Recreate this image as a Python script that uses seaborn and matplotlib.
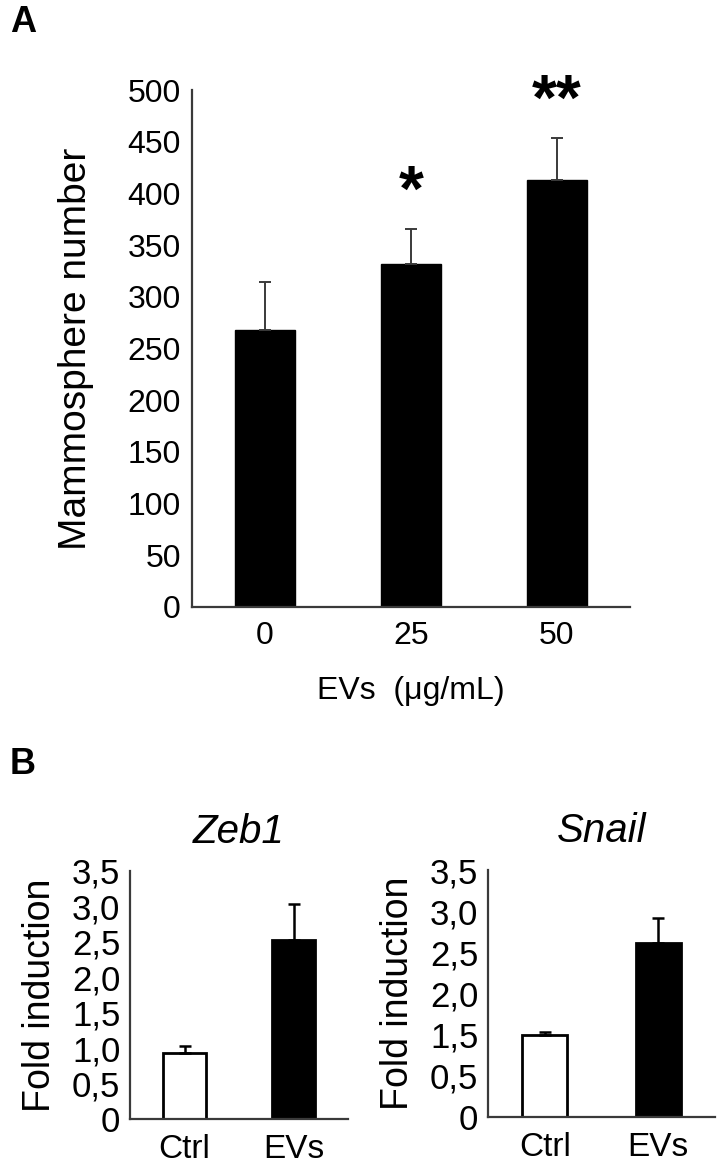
import numpy as np
import matplotlib
matplotlib.use('Agg')
import matplotlib.pyplot as plt
import seaborn as sns
from matplotlib.ticker import FixedLocator, FixedFormatter

# panel A
doses = ['0', '25', '50']
mammo_mean = [268, 332, 413]
mammo_err = [46, 34, 41]
mammo_stars = ['', '*', '**']
mammo_yticks = [0, 50, 100, 150, 200, 250, 300, 350, 400, 450, 500]

# panel B
groups = ['Ctrl', 'EVs']
zeb1_mean = [0.93, 2.52]
zeb1_err = [0.10, 0.51]
snail_mean = [1.50, 2.61]
snail_err = [0.03, 0.31]
zeb1_ticks = [0, 0.5, 1.0, 1.5, 2.0, 2.5, 3.0, 3.5]
snail_ticks = [0, 0.5, 1.5, 2.0, 2.5, 3.0, 3.5]

sns.set_style('white')
plt.rcParams['font.family'] = ['Liberation Sans', 'DejaVu Sans']
plt.rcParams['text.color'] = 'black'
plt.rcParams['axes.labelcolor'] = 'black'
plt.rcParams['xtick.labelcolor'] = 'black'
plt.rcParams['ytick.labelcolor'] = 'black'

fig = plt.figure(figsize=(7.26, 11.70), dpi=100)
line_c = '#3a3a3a'


def style_axis(ax):
    sns.despine(ax=ax)
    for s in ['left', 'bottom']:
        ax.spines[s].set_color(line_c)
        ax.spines[s].set_linewidth(1.6)
    ax.set_facecolor('white')


# ---- A ----
axA = fig.add_axes([192 / 726, 1 - 607 / 1170, 438 / 726, 517 / 1170])
sns.barplot(x=doses, y=mammo_mean, color='black', edgecolor='black',
            width=0.41, ax=axA)
axA.errorbar(range(len(doses)), mammo_mean,
             yerr=[np.zeros(len(doses)), mammo_err], fmt='none',
             ecolor=line_c, elinewidth=1.4, capsize=4, capthick=1.4)
for i, s in enumerate(mammo_stars):
    if s:
        axA.text(i, mammo_mean[i] + mammo_err[i] + 5, s, ha='center',
                 va='bottom', fontsize=46, fontweight='bold')
axA.set_xlim(-0.5, 2.5)
axA.set_ylim(0, 500)
axA.set_yticks(mammo_yticks)
style_axis(axA)
axA.tick_params(axis='y', direction='out', length=5, width=1.4, color=line_c,
                labelsize=23, pad=3)
axA.tick_params(axis='x', length=0, labelsize=23, pad=10)
axA.set_ylabel('Mammosphere number', fontsize=28, labelpad=24)
axA.set_xlabel('EVs  (\u03bcg/mL)', fontsize=23, labelpad=18)

fig.text(10 / 726, 1 - 22 / 1170, 'A', fontsize=26, fontweight='bold',
         va='center', ha='left')
fig.text(10 / 726, 1 - 765 / 1170, 'B', fontsize=26, fontweight='bold',
         va='center', ha='left')


# ---- B ----
def panel_b(rect, mean, err, title, ticks, labels):
    ax = fig.add_axes(rect)
    sns.barplot(x=groups, y=mean, hue=groups, palette=['white', 'black'],
                edgecolor='black', linewidth=2, width=0.4, legend=False,
                ax=ax)
    ax.errorbar(range(len(groups)), mean, yerr=[np.zeros(len(groups)), err],
                fmt='none', ecolor='black', elinewidth=1.8, capsize=4,
                capthick=1.8)
    ax.set_xlim(-0.5, 1.5)
    ax.set_ylim(0, 3.5)
    ax.yaxis.set_major_locator(FixedLocator(ticks))
    ax.yaxis.set_major_formatter(FixedFormatter(labels))
    ax.xaxis.set_major_locator(FixedLocator([-0.5, 0.5, 1.5]))
    ax.xaxis.set_minor_locator(FixedLocator([0, 1]))
    ax.xaxis.set_major_formatter(FixedFormatter(['', '', '']))
    ax.xaxis.set_minor_formatter(FixedFormatter(groups))
    style_axis(ax)
    ax.tick_params(axis='y', direction='out', length=5, width=1.4,
                   color=line_c, labelsize=25, pad=2)
    ax.tick_params(axis='x', which='major', direction='out', length=5,
                   width=1.4, color=line_c)
    ax.tick_params(axis='x', which='minor', length=0, labelsize=24, pad=11)
    ax.set_ylabel('Fold induction', fontsize=27, labelpad=10)
    ax.set_title(title, fontsize=29, style='italic', pad=20)
    return ax


def fmt(v):
    return '0' if v == 0 else ('%.1f' % v).replace('.', ',')


panel_b([130 / 726, 1 - 1119 / 1170, 218 / 726, 248 / 1170],
        zeb1_mean, zeb1_err, 'Zeb1', zeb1_ticks, [fmt(t) for t in zeb1_ticks])

# Snail axis in the figure is evenly spaced over its printed tick labels
pos = np.arange(len(snail_ticks))


def fwd(v):
    return np.interp(v, snail_ticks, pos)


def inv(v):
    return np.interp(v, pos, snail_ticks)


axS = panel_b([488 / 726, 1 - 1117 / 1170, 227 / 726, 247 / 1170],
              snail_mean, snail_err, 'Snail', snail_ticks,
              [fmt(t) for t in snail_ticks])
axS.set_yscale('function', functions=(fwd, inv))
axS.set_ylim(0, 3.5)
axS.yaxis.set_major_locator(FixedLocator(snail_ticks))
axS.yaxis.set_major_formatter(FixedFormatter([fmt(t) for t in snail_ticks]))
axS.yaxis.set_minor_locator(FixedLocator([]))

fig.savefig('out.png', dpi=100)
